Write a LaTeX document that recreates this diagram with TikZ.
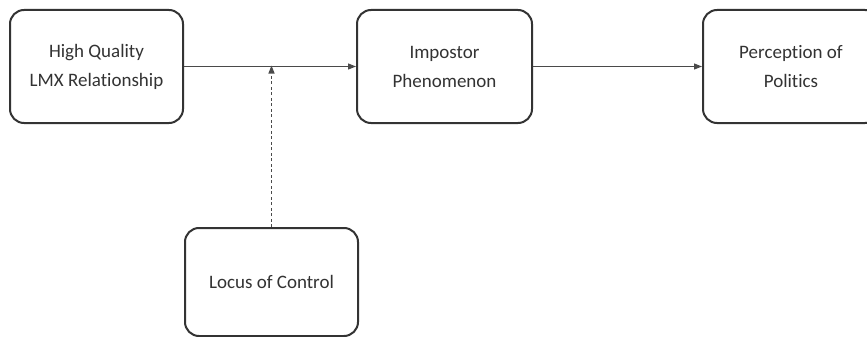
\documentclass[tikz,border=0pt]{standalone}
\usepackage{fontspec}
\setmainfont{Carlito}[Ligatures={NoCommon,NoRare,NoContextual},Contextuals=NoAlternate]
\usetikzlibrary{arrows.meta}
\definecolor{txt}{HTML}{333333}
\definecolor{edge}{HTML}{333333}
\definecolor{conn}{HTML}{4A4A4A}
\begin{document}
\begin{tikzpicture}[x=1pt,y=-1pt,
  box/.style={draw=edge,line width=2pt,rounded corners=14pt,fill=white,
    text=txt,align=center,inner sep=0pt,
    font=\fontsize{19}{29}\selectfont},
  conn/.style={draw=conn,line width=1.3pt,-{Triangle[length=8pt,width=6pt]}},
  dconn/.style={draw=conn,line width=1.2pt,dash pattern=on 3pt off 2.5pt,-{Triangle[length=8pt,width=6pt]}}]
\useasboundingbox (0,0) rectangle (867,337);
\node[box,minimum width=173pt,minimum height=113pt] (lmx) at (96.5,66.5) {High Quality\\LMX Relationship};
\node[box,minimum width=175pt,minimum height=113pt] (imp) at (444.5,66.5) {Impostor\\Phenomenon};
\node[box,minimum width=176pt,minimum height=113pt] (pop) at (791,66.5) {Percep\kern0pt tion of\\Poli\kern0pt tics};
\node[box,minimum width=173pt,minimum height=108pt] (loc) at (271.5,282) {Locus of Control};
\draw[conn] (lmx.east) -- (imp.west);
\draw[conn] (imp.east) -- (pop.west);
\coordinate (mod) at (271.5,66.5);
\draw[dconn] (loc.north) -- ([yshift=1pt]mod);
\end{tikzpicture}
\end{document}
